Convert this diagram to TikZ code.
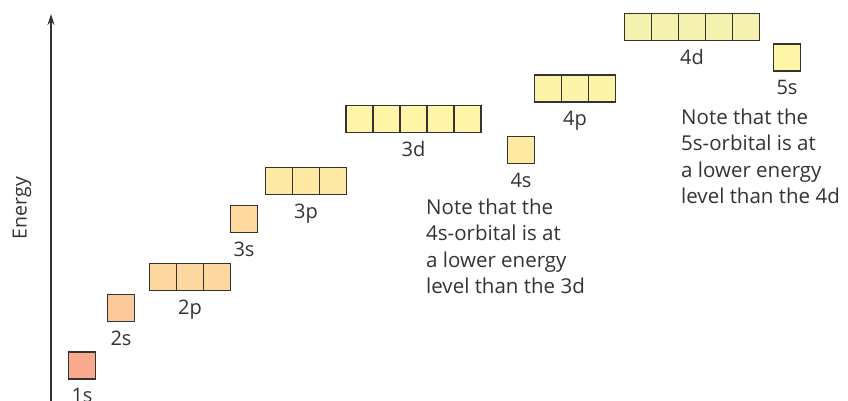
\documentclass[tikz,border=0pt]{standalone}
\usepackage{fontspec}
\setmainfont{Open Sans}
\usetikzlibrary{arrows.meta}
\definecolor{ink}{HTML}{333333}
\definecolor{cA}{HTML}{F9AA8C}
\definecolor{cB}{HTML}{FDC99B}
\definecolor{cC}{HTML}{FDD7A0}
\definecolor{cD}{HTML}{FED9A0}
\definecolor{cE}{HTML}{FEEAA5}
\definecolor{cF}{HTML}{FFF4A8}
\definecolor{cG}{HTML}{FFE9A2}
\definecolor{cH}{HTML}{FBF3A8}
\definecolor{cI}{HTML}{F4F2AE}
\definecolor{cJ}{HTML}{FFF5A8}
\tikzset{
  orb/.style={draw=ink, line width=1.1pt, minimum size=27pt, inner sep=0pt, outer sep=0pt},
  lbl/.style={text=ink, inner sep=0pt, anchor=base, font=\fontsize{20}{24}\selectfont},
  note/.style={text=ink, inner sep=0pt, anchor=north west, align=left, font=\fontsize{20.5}{26.5}\selectfont},
}
\begin{document}
\begin{tikzpicture}[x=1pt,y=-1pt]
\useasboundingbox (0,0) rectangle (848,400);
% axis
\coordinate (ax0) at (51,402);
\coordinate (ax1) at (51,14);
\draw[ink, line width=1.3pt, -{Stealth[length=11pt,width=7pt]}] (ax0) -- (ax1);
\node[text=ink, rotate=90, inner sep=0pt, font=\fontsize{19.5}{22}\selectfont] (energy) at (22,208) {Energy};
% 1s
\node[orb, fill=cA] (s1) at (82,365.5) {};
\node[lbl] (l1s) at ([yshift=-23.5pt]s1.south) {1s};
% 2s
\node[orb, fill=cB] (s2) at (121,308) {};
\node[lbl] (l2s) at ([yshift=-23.5pt]s2.south) {2s};
% 2p
\node[orb, fill=cC] (p2a) at (163,277) {};
\node[orb, fill=cC] (p2b) at (190,277) {};
\node[orb, fill=cC] (p2c) at (217,277) {};
\node[lbl] (l2p) at ([yshift=-23.5pt]p2b.south) {2p};
% 3s
\node[orb, fill=cD] (s3) at (244,219) {};
\node[lbl] (l3s) at ([yshift=-23.5pt]s3.south) {3s};
% 3p
\node[orb, fill=cE] (p3a) at (279,181) {};
\node[orb, fill=cE] (p3b) at (306,181) {};
\node[orb, fill=cE] (p3c) at (333,181) {};
\node[lbl] (l3p) at ([yshift=-23.5pt]p3b.south) {3p};
% 3d
\node[orb, fill=cF] (d3a) at (359.5,119) {};
\node[orb, fill=cF] (d3b) at (386.5,119) {};
\node[orb, fill=cF] (d3c) at (413.5,119) {};
\node[orb, fill=cF] (d3d) at (440.5,119) {};
\node[orb, fill=cF] (d3e) at (467.5,119) {};
\node[lbl] (l3d) at ([yshift=-23.5pt]d3c.south) {3d};
% 4s
\node[orb, fill=cG] (s4) at (521,150) {};
\node[lbl] (l4s) at ([yshift=-23.5pt]s4.south) {4s};
% 4p
\node[orb, fill=cH] (p4a) at (548,88.5) {};
\node[orb, fill=cH] (p4b) at (575,88.5) {};
\node[orb, fill=cH] (p4c) at (602,88.5) {};
\node[lbl] (l4p) at ([yshift=-23.5pt]p4b.south) {4p};
% 4d
\node[orb, fill=cI] (d4a) at (638,27) {};
\node[orb, fill=cI] (d4b) at (665,27) {};
\node[orb, fill=cI] (d4c) at (692,27) {};
\node[orb, fill=cI] (d4d) at (719,27) {};
\node[orb, fill=cI] (d4e) at (746,27) {};
\node[lbl] (l4d) at ([yshift=-23.5pt]d4c.south) {4d};
% 5s
\node[orb, fill=cJ] (s5) at (787,57.5) {};
\node[lbl] (l5s) at ([yshift=-23.5pt]s5.south) {5s};
% notes
\node[note] (n1) at (426,198.5) {Note that the\\4s-orbital is at\\a lower energy\\level than the 3d};
\node[note] (n2) at (681,108.5) {Note that the\\5s-orbital is at\\a lower energy\\level than the 4d};
\end{tikzpicture}
\end{document}
